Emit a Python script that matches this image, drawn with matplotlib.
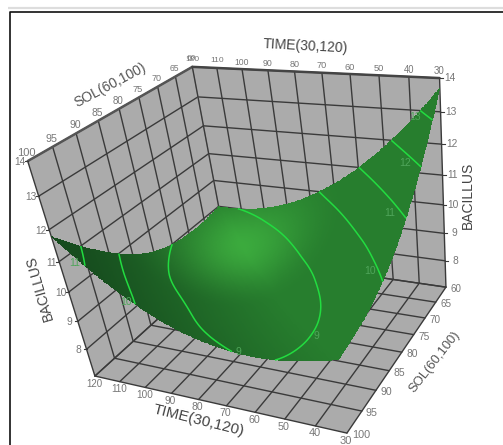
import numpy as np
import matplotlib
matplotlib.use("Agg")
import matplotlib.pyplot as plt
import matplotlib.tri as mtri

plt.rcParams['font.family'] = ['Liberation Sans', 'DejaVu Sans']

# ---------- data ----------
TIME = [30, 40, 50, 60, 70, 80, 90, 100, 110, 120]
SOL = [60, 65, 70, 75, 80, 85, 90, 95, 100]
BACILLUS_TICKS = [8, 9, 10, 11, 12, 13, 14]
Z_FLOOR = 7
BACILLUS = [  # one row per TIME, one column per SOL
    [13.70, 12.69, 11.80, 11.05, 10.44, 9.99, 9.68, 9.51, 9.40],
    [12.67, 11.76, 10.97, 10.32, 9.82, 9.46, 9.25, 9.16, 9.16],
    [11.76, 10.95, 10.27, 9.72, 9.31, 9.04, 8.91, 8.91, 9.00],
    [10.98, 10.27, 9.69, 9.24, 8.93, 8.75, 8.71, 8.78, 8.97],
    [10.33, 9.73, 9.25, 8.90, 8.66, 8.58, 8.62, 8.79, 9.08],
    [9.81, 9.31, 8.92, 8.66, 8.52, 8.53, 8.67, 8.93, 9.32],
    [9.41, 9.01, 8.71, 8.54, 8.50, 8.60, 8.86, 9.24, 9.73],
    [9.15, 8.84, 8.64, 8.54, 8.58, 8.79, 9.17, 9.68, 10.29],
    [9.01, 8.80, 8.70, 8.69, 8.83, 9.14, 9.63, 10.26, 10.98],
    [9.00, 8.90, 8.90, 9.00, 9.25, 9.66, 10.26, 10.97, 11.79],
]
CONTOUR_LEVELS = [9, 10, 11, 12, 13]

# ---------- camera: calibrated from the box corners seen in the picture ----------
calib_world = np.array([
    (120, 100, 14), (120, 60, 14), (30, 60, 14), (120, 100, 7), (30, 100, 7),
    (30, 60, 7), (120, 60, 7), (120, 80, 14), (70, 60, 14), (60, 100, 7), (30, 80, 7),
    (120, 100, 10), (30, 60, 10), (120, 60, 10),
], float)
calib_pix = np.array([
    (28, 160), (193, 67), (438, 77), (95, 377), (347, 435),
    (447, 288), (226, 253), (120, 108), (321, 72), (255, 407), (402, 352),
    (68, 296), (444, 207), (215, 182),
], float)

def fit_camera(w, p):
    rows = []
    for (x, y, z), (u, v) in zip(w, p):
        rows.append([x, y, z, 1, 0, 0, 0, 0, -u * x, -u * y, -u * z, -u])
        rows.append([0, 0, 0, 0, x, y, z, 1, -v * x, -v * y, -v * z, -v])
    A = np.array(rows)
    s = np.array([100, 100, 10, 1] * 3, float)
    _, _, vt = np.linalg.svd(A / s)
    return (vt[-1] / s).reshape(3, 4)

CAM = fit_camera(calib_world, calib_pix)

def proj(t, s, z):
    t, s, z = np.broadcast_arrays(np.asarray(t, float), np.asarray(s, float), np.asarray(z, float))
    q = [CAM[i, 0] * t + CAM[i, 1] * s + CAM[i, 2] * z + CAM[i, 3] for i in range(3)]
    return q[0] / q[2], q[1] / q[2]

# ---------- figure ----------
fig = plt.figure(figsize=(5.03, 4.45), dpi=100, facecolor='white')
ax = fig.add_axes([0, 0, 1, 1])
ax.set_xlim(0, 503)
ax.set_ylim(445, 0)
ax.axis('off')

# page frame
ax.plot([8, 503], [8, 8], color='#dddddd', lw=1.6, solid_capstyle='butt')
ax.plot([503, 10.5, 10.5], [11.5, 11.5, 445], color='#111111', lw=1.2, solid_capstyle='butt')

WALL = '#ababab'
GRID = '#3a3a3a'
TXT = '#777777'
T0, T1, S0, S1 = TIME[0], TIME[-1], SOL[0], SOL[-1]
ZT = BACILLUS_TICKS[-1]

def poly(ts, ss, zs):
    x, y = proj(ts, ss, zs)
    ax.fill(x, y, color=WALL, lw=0, zorder=1)

poly([T1, T1, T1, T1], [S0, S1, S1, S0], [ZT, ZT, Z_FLOOR, Z_FLOOR])
poly([T0, T1, T1, T0], [S0, S0, S0, S0], [ZT, ZT, Z_FLOOR, Z_FLOOR])
poly([T0, T1, T1, T0], [S0, S0, S1, S1], [Z_FLOOR] * 4)

def seg(a, b, lw=1.0, c=GRID, z=2):
    x, y = proj([a[0], b[0]], [a[1], b[1]], [a[2], b[2]])
    ax.plot(x, y, color=c, lw=lw, zorder=z, solid_capstyle='round')

for zv in [Z_FLOOR] + BACILLUS_TICKS:
    seg((T1, S1, zv), (T1, S0, zv))
    seg((T1, S0, zv), (T0, S0, zv))
for s in SOL:
    seg((T1, s, ZT), (T1, s, Z_FLOOR), lw=1.0 if s != S0 else 0.6, c=GRID if s != S0 else '#888888')
    seg((T1, s, Z_FLOOR), (T0, s, Z_FLOOR))
for t in TIME:
    seg((t, S0, ZT), (t, S0, Z_FLOOR), lw=1.0)
    seg((t, S0, Z_FLOOR), (t, S1, Z_FLOOR))
# thicker top edges
seg((T1, S1, ZT), (T1, S0, ZT), lw=1.8, c='#555555')
seg((T1, S0, ZT), (T0, S0, ZT), lw=1.8, c='#444444')

# tick labels
def lab(x, y, s, size=6.8, rot=0, color=TXT):
    ax.text(x, y, s, fontsize=size, rotation=rot, color=color, ha='center', va='center',
            rotation_mode='anchor', zorder=6)

for t in TIME:
    x, y = proj(t, S0, ZT)
    lab(x, y - 7, str(t), size=6.0 + (T1 - t) / (T1 - T0))
    x, y = proj(t, S1, Z_FLOOR)
    lab(x - 1, y + 7.5, str(t), size=7.0 + (T1 - t) / (T1 - T0))
for s in SOL:
    x, y = proj(T1, s, ZT)
    lab(x - 1, y - 8, str(s), size=6.0 + 2 * (s - S0) / (S1 - S0))
    x, y = proj(T0, s, Z_FLOOR)
    lab(x + (14 if s == S1 else 10), y + 2, str(s), size=7.0 + 0.8 * (s - S0) / (S1 - S0))
for zv in BACILLUS_TICKS:
    x, y = proj(T1, S1, zv)
    ax.plot([x - 3, x], [y, y], color=GRID, lw=0.8, zorder=2)
    lab(x - 8, y + 1, str(zv), size=7.4)
    x, y = proj(T0, S0, zv)
    ax.plot([x, x + 3], [y, y], color=GRID, lw=0.8, zorder=2)
    lab(x + 10, y, str(zv), size=7.4)

lab(306, 46, 'TIME(30,120)', size=10.0, rot=-3, color='#444444')
lab(110, 85, 'SOL(60,100)', size=10.0, rot=28, color='#555555')
lab(468, 195, 'BACILLUS', size=10.0, rot=90, color='#444444')
lab(40, 288, 'BACILLUS', size=10.0, rot=106, color='#444444')
lab(199, 421, 'TIME(30,120)', size=11.0, rot=-14, color='#444444')
lab(435, 362, 'SOL(60,100)', size=9.4, rot=52, color='#555555')

# ---------- surface ----------
TT, SS = np.meshgrid(TIME, SOL, indexing='ij')
tri = mtri.Triangulation(TT.ravel(), SS.ravel())
interp = mtri.CubicTriInterpolator(tri, np.array(BACILLUS).ravel(), kind='min_E')
tf = np.linspace(T0 + 1e-4, T1 - 1e-4, 181)
sf = np.linspace(S0 + 1e-4, S1 - 1e-4, 161)
TF, SF = np.meshgrid(tf, sf, indexing='ij')
ZF = np.ma.filled(interp(TF, SF), np.nan)
PX, PY = proj(TF, SF, ZF)

# shading: soft highlight near the back of the bowl, darkening toward the far-left tip
tn, un = (TF - 75) / 45, (SF - 80) / 20
r = np.hypot(tn - 0.6, un + 0.45)
bright = np.array((60, 172, 62), float) / 255
mid = np.array((39, 126, 46), float) / 255
dark = np.array((22, 76, 30), float) / 255
a = np.clip(r / 0.95, 0, 1)[..., None]
a = a * a * (3 - 2 * a)
w = np.clip(0.55 * (un + tn), 0, 1)[..., None]
rgb = (bright * (1 - a) + mid * a) * (1 - w) + dark * w
rgb_cell = 0.25 * (rgb[:-1, :-1] + rgb[1:, :-1] + rgb[:-1, 1:] + rgb[1:, 1:])
ax.pcolormesh(PX, PY, rgb_cell, shading='flat', antialiased=False, zorder=3, linewidth=0)
ax.contour(PX, PY, ZF, levels=CONTOUR_LEVELS, colors=['#22dc40'], linewidths=1.1, zorder=4)

for x, y, s in [(415, 117, '13'), (405, 163, '12'), (390, 213, '11'), (370, 271, '10'),
                (316, 336, '9'), (238, 352, '9'), (126, 302, '10'), (75, 263, '11')]:
    lab(x, y, s, size=7.5, color='#4fa55a')

ax.set_xlim(0, 503)
ax.set_ylim(445, 0)
fig.savefig('out.png', dpi=100, facecolor='white')
